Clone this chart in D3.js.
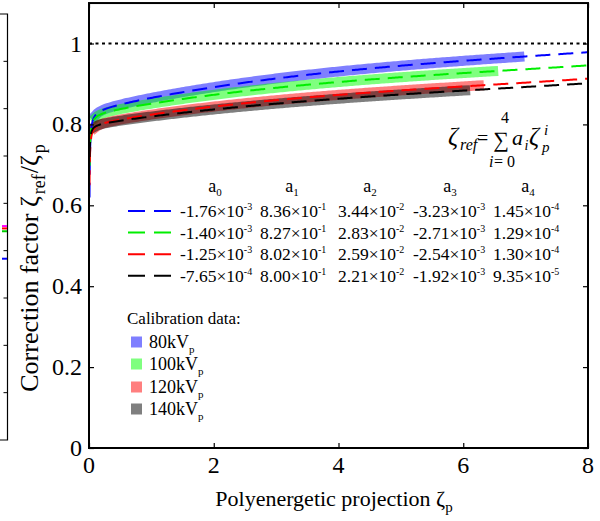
<!DOCTYPE html>
<html><head><meta charset="utf-8">
<script src="https://cdn.jsdelivr.net/npm/d3@7"></script>
<style>body{margin:0;background:#fff}svg{display:block}text{font-family:"Liberation Serif","Times New Roman",serif;fill:#000}</style>
</head><body>
<script>
// ---- data ----
const seriesNames = ["80kV", "100kV", "120kV", "140kV"];
const a0 = [-1.76e-3, -1.40e-3, -1.25e-3, -7.65e-4];
const a1 = [8.36e-1, 8.27e-1, 8.02e-1, 8.00e-1];
const a2 = [3.44e-2, 2.83e-2, 2.59e-2, 2.21e-2];
const a3 = [-3.23e-3, -2.71e-3, -2.54e-3, -1.92e-3];
const a4 = [1.45e-4, 1.29e-4, 1.30e-4, 9.35e-5];
const a0Label = [["-1.76","-3"],["-1.40","-3"],["-1.25","-3"],["-7.65","-4"]];
const a1Label = [["8.36","-1"],["8.27","-1"],["8.02","-1"],["8.00","-1"]];
const a2Label = [["3.44","-2"],["2.83","-2"],["2.59","-2"],["2.21","-2"]];
const a3Label = [["-3.23","-3"],["-2.71","-3"],["-2.54","-3"],["-1.92","-3"]];
const a4Label = [["1.45","-4"],["1.29","-4"],["1.30","-4"],["9.35","-5"]];
const fitStart = [0.0081, 0.0108, 0.0082, 0.0095];   // first ζp of the fitted curve
const fitEnd = [8, 8, 8, 8];
const calStart = [0.1, 0.1, 0.1, 0.1];              // calibration data range (ζp)
const calEnd = [6.9, 6.48, 6.25, 6.03];
const xTicks = [0, 2, 4, 6, 8];
const yTicks = [0, 0.2, 0.4, 0.6, 0.8, 1];
const yTickLabels = ["0", "0.2", "0.4", "0.6", "0.8", "1"];
const refLine = [1];
const nbTicks = [1, 2, 3, 4, 5, 6, 7, 8];           // neighbouring panel fragment
const nbMarks = [4.52, 4.47, 4.41, 3.83];

// ---- style ----
const lineColors = ["#0000ff", "#00ee00", "#ff0000", "#000000"];
const bandColors = ["#0000ff", "#00ff00", "#ff0000", "#000000"];
const nbColors = ["#ff00ff", "#ff0000", "#00cc00", "#0000ff"];

const W = 600, H = 521;
const svg = d3.select("body").append("svg").attr("width", W).attr("height", H);
const x = d3.scaleLinear().domain([0, 8]).range([89, 588]);
const y = d3.scaleLinear().domain([0, 1.1]).range([448, 3.05]);

const coef = i => [a0[i], a1[i], a2[i], a3[i], a4[i]];
const fitRatio = (c, z) => (c[0] + c[1]*z + c[2]*z*z + c[3]*z*z*z + c[4]*z*z*z*z) / z;

// neighbour panel fragment
const ny = d3.scaleLinear().domain([0, 9]).range([440, 14]);
const nb = svg.append("g");
nb.append("path").attr("d", `M0,${ny(9)}H7.5V${ny(0)}H0`).attr("fill", "none").attr("stroke", "#000").attr("stroke-width", 1.2);
nb.selectAll(".nt").data(nbTicks).enter().append("line")
  .attr("x1", 3.5).attr("x2", 7.5).attr("y1", d => ny(d)).attr("y2", d => ny(d))
  .attr("stroke", "#000").attr("stroke-width", 1);
nb.selectAll(".nm").data(nbMarks).enter().append("line")
  .attr("x1", 2).attr("x2", 7).attr("y1", d => ny(d)).attr("y2", d => ny(d))
  .attr("stroke", (d, i) => nbColors[i]).attr("stroke-width", 2);

// calibration bands
const line = d3.line().x(d => x(d[0])).y(d => y(d[1]));
const sample = (i, z0, z1, n) => {
  const c = coef(i), pts = [];
  for (let k = 0; k <= n; k++) {
    const t = k / n;
    const z = Math.exp(Math.log(z0) + t * (Math.log(z1) - Math.log(z0)));
    pts.push([z, fitRatio(c, z)]);
  }
  return pts;
};
const sampleLin = (i, z0, z1, n) => {
  const c = coef(i), pts = [];
  for (let k = 0; k <= n; k++) { const z = z0 + (z1 - z0) * k / n; pts.push([z, fitRatio(c, z)]); }
  return pts;
};
seriesNames.forEach((s, i) => {
  svg.append("path").attr("d", line(sampleLin(i, calStart[i], calEnd[i], 200)))
    .attr("fill", "none").attr("stroke", bandColors[i]).attr("stroke-opacity", 0.5)
    .attr("stroke-width", 10).attr("stroke-linecap", "square");
});

// reference dotted line
svg.selectAll(".ref").data(refLine).enter().append("line")
  .attr("x1", x(0)).attr("x2", x(8)).attr("y1", d => y(d)).attr("y2", d => y(d))
  .attr("stroke", "#000").attr("stroke-width", 1.8).attr("stroke-dasharray", "3,3.5");

// fitted curves
seriesNames.forEach((s, i) => {
  const pts = sample(i, fitStart[i], 0.3, 60).concat(sampleLin(i, 0.3, fitEnd[i], 300).slice(1));
  svg.append("path").attr("d", line(pts))
    .attr("fill", "none").attr("stroke", lineColors[i]).attr("stroke-width", 2)
    .attr("stroke-dasharray", "15,8");
});

// frame and ticks
svg.append("rect").attr("x", x(0)).attr("y", y(1.1)).attr("width", x(8) - x(0)).attr("height", y(0) - y(1.1))
  .attr("fill", "none").attr("stroke", "#000").attr("stroke-width", 2);
const tl = 5;
svg.append("g").attr("transform", `translate(0,${y(0)})`)
  .call(d3.axisBottom(x).tickValues(xTicks).tickSize(-tl).tickFormat("")).call(g => g.select(".domain").remove());
svg.append("g").attr("transform", `translate(0,${y(1.1)})`)
  .call(d3.axisTop(x).tickValues(xTicks).tickSize(-tl).tickFormat("")).call(g => g.select(".domain").remove());
svg.append("g").attr("transform", `translate(${x(0)},0)`)
  .call(d3.axisLeft(y).tickValues(yTicks).tickSize(-tl).tickFormat("")).call(g => g.select(".domain").remove());
svg.append("g").attr("transform", `translate(${x(8)},0)`)
  .call(d3.axisRight(y).tickValues(yTicks).tickSize(-tl).tickFormat("")).call(g => g.select(".domain").remove());
svg.selectAll(".tick line").attr("stroke-width", 1.2);

// tick labels
svg.selectAll(".xt").data(xTicks).enter().append("text")
  .attr("x", d => x(d)).attr("y", 473).attr("text-anchor", "middle").attr("font-size", 24).text(d => d);
svg.selectAll(".yt").data(yTicks).enter().append("text")
  .attr("x", 82).attr("y", d => y(d) + 8).attr("text-anchor", "end").attr("font-size", 24)
  .text((d, i) => yTickLabels[i]);

// axis labels
const xl = svg.append("text").attr("x", 334).attr("y", 506).attr("text-anchor", "middle").attr("font-size", 22);
xl.append("tspan").text("Polyenergetic projection ζ");
xl.append("tspan").attr("font-size", 15).attr("dy", 6).text("p");
const yl = svg.append("text").attr("transform", "translate(38,268) rotate(-90)").attr("text-anchor", "middle").attr("font-size", 26);
yl.append("tspan").text("Correction factor ζ");
yl.append("tspan").attr("font-size", 18).attr("dy", 7).attr("dx", 2).text("ref");
yl.append("tspan").attr("dy", -7).attr("dx", 1).text("/ζ");
yl.append("tspan").attr("font-size", 18).attr("dy", 7).attr("dx", 2).text("p");

// formula (single text element, pieces placed with tspans)
const ft = svg.append("text").attr("font-style", "italic");
const piece = (px, py, size, str, upright, anchor) =>
  ft.append("tspan").attr("x", px).attr("y", py).attr("font-size", size)
    .attr("font-style", upright ? "normal" : "italic").attr("text-anchor", anchor || "start").text(str);
piece(448, 145, 25, "ζ");
piece(460, 150, 16, "ref");
piece(477, 145, 20, "=", true);
piece(501, 147, 22, "∑", true, "middle");
piece(505, 123, 16, "4", true, "middle");
piece(489, 167, 16, "i");
piece(494, 167, 16, "= 0", true);
piece(512, 145, 22, "a");
piece(524.5, 150, 14, "i");
piece(529, 145, 25, "ζ");
piece(544, 135, 15, "i");
piece(542, 152, 15, "p");

// coefficient table
const colLabels = [a0Label, a1Label, a2Label, a3Label, a4Label];
const headX = [215, 292, 370, 450, 528];
const valX = [180, 260, 338, 413, 493];
const rowY = i => 211 + i * 21.6;
colLabels.forEach((c, j) => {
  const h = svg.append("text").attr("x", headX[j]).attr("y", 192).attr("text-anchor", "middle").attr("font-size", 18);
  h.append("tspan").text("a");
  h.append("tspan").attr("font-size", 11).attr("dy", 4).text(j);
});
seriesNames.forEach((s, i) => {
  svg.append("line").attr("x1", 128).attr("x2", 171).attr("y1", rowY(i)).attr("y2", rowY(i))
    .attr("stroke", lineColors[i]).attr("stroke-width", 2).attr("stroke-dasharray", "17,9");
  colLabels.forEach((c, j) => {
    const t = svg.append("text").attr("x", valX[j]).attr("y", rowY(i) + 6).attr("font-size", 17.5);
    t.append("tspan").text(c[i][0] + "×10");
    t.append("tspan").attr("font-size", 10).attr("dy", -7).text(c[i][1]);
  });
});

// calibration legend
svg.append("text").attr("x", 127).attr("y", 324).attr("font-size", 17).text("Calibration data:");
const legY = [342, 364, 387, 409];
seriesNames.forEach((s, i) => {
  svg.append("rect").attr("x", 131).attr("y", legY[i] - 5.5).attr("width", 11).attr("height", 11)
    .attr("fill", bandColors[i]).attr("fill-opacity", 0.5);
  const t = svg.append("text").attr("x", 149).attr("y", legY[i] + 6).attr("font-size", 18);
  t.append("tspan").text(s);
  t.append("tspan").attr("font-size", 11).attr("dy", 5).text("p");
});
</script>
</body></html>
